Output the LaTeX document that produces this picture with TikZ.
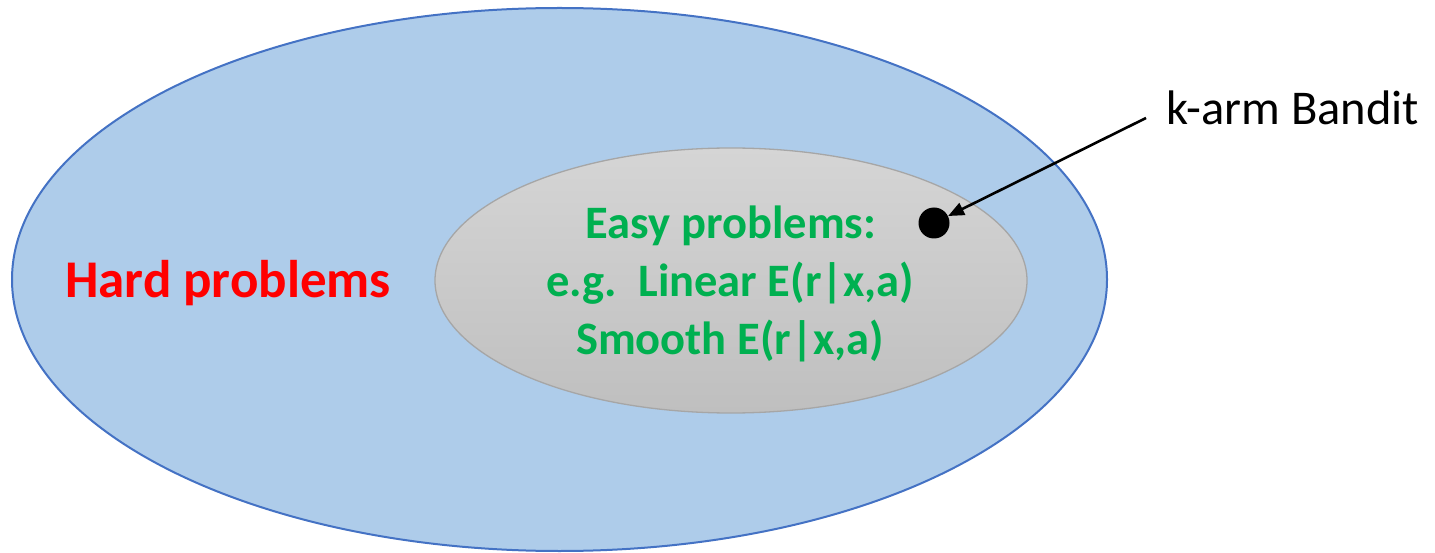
\documentclass[tikz,border=0pt]{standalone}
\usepackage{fontspec}
\setmainfont{Carlito}
\usetikzlibrary{arrows.meta}
\definecolor{outerfill}{HTML}{AECCEA}
\definecolor{outerline}{HTML}{4472C4}
\definecolor{innertop}{HTML}{D5D5D5}
\definecolor{innerbot}{HTML}{BFBFBF}
\definecolor{innerline}{HTML}{A6A6A6}
\definecolor{easygreen}{HTML}{00B050}
\definecolor{hardred}{HTML}{FF0000}
\tikzset{
  hardtext/.style={font=\fontsize{53}{62}\selectfont\bfseries, text=hardred, inner sep=0pt, anchor=base west},
  easytext/.style={font=\fontsize{46.5}{55}\selectfont\bfseries, text=easygreen, inner sep=0pt, anchor=base},
  labeltext/.style={font=\fontsize{48.5}{57}\selectfont, text=black, inner sep=0pt, anchor=base west},
  dotnode/.style={circle, fill=black, minimum size=31pt, inner sep=0pt},
  pointer/.style={line width=2.6pt, -{Triangle[length=16pt, width=13pt]}}
}
\begin{document}
\begin{tikzpicture}[x=1pt, y=-1pt]
\useasboundingbox (0,0) rectangle (1435,553);
% outer ellipse
\draw[fill=outerfill, draw=outerline, line width=2pt] (559.5,279.5) ellipse [x radius=547.5, y radius=271.5];
% inner ellipse
\draw[top color=innertop, bottom color=innerbot, draw=innerline, line width=1.3pt] (731,280.5) ellipse [x radius=296, y radius=132.5];
% texts
\node[hardtext] (hard) at (65,298) {Hard problems};
\node[easytext] (easy1) at (731,239) {Easy problems:};
\node[easytext] (easy2) at (730.5,297) {e.g.\ \ Linear E(r|x,a)};
\node[easytext] (easy3) at (730,354) {Smooth E(r|x,a)};
\node[labeltext] (bandit) at (1166,125) {k-arm Bandit};
% dot and arrow
\node[dotnode] (dot) at (934,223) {};
\coordinate (arrowstart) at (1146,118);
\draw[pointer] (arrowstart) -- (dot);
\end{tikzpicture}
\end{document}
